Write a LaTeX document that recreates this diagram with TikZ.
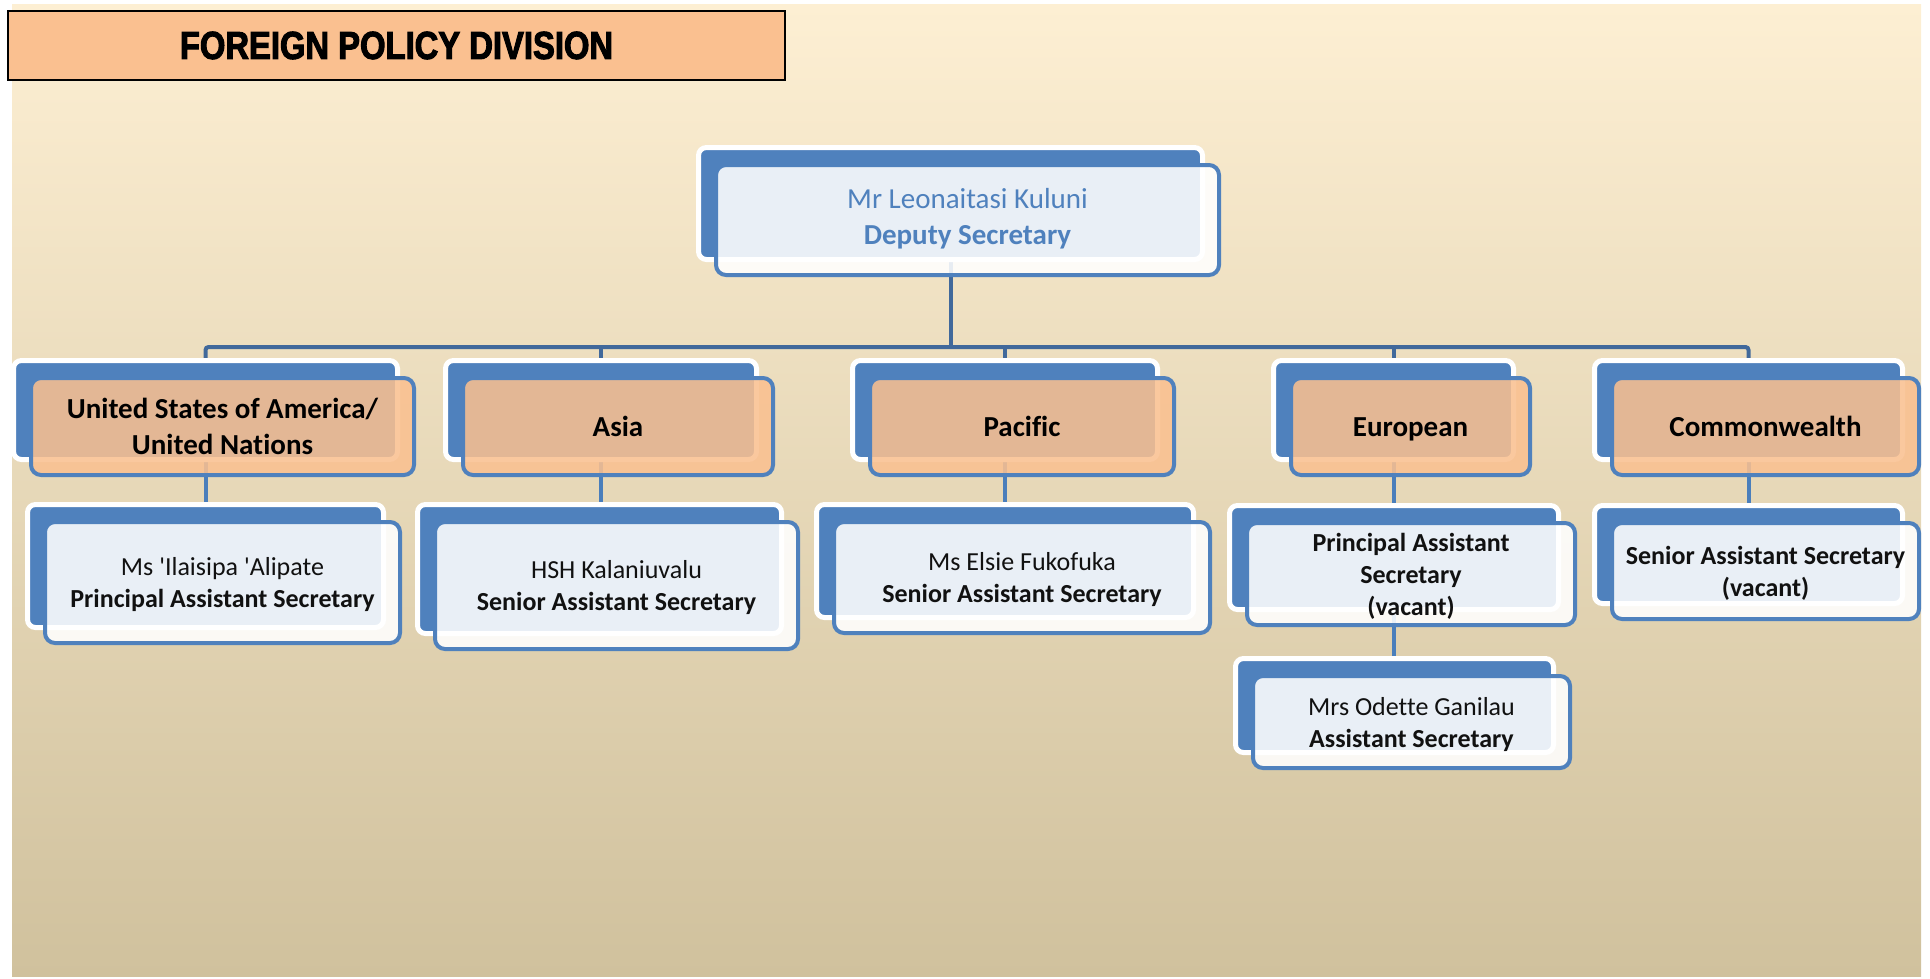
\documentclass[tikz,border=0pt]{standalone}
\usepackage{fontspec}
\setmainfont{Carlito}[Ligatures={TeXOff,CommonOff}]
\newfontfamily\headfont{Liberation Sans Bold}[FakeStretch=0.84,FakeBold=2.6]
\usetikzlibrary{calc}

\definecolor{paperTop}{HTML}{FDEFD3}
\definecolor{paperMid}{HTML}{F1E9D2}
\definecolor{paperBot}{HTML}{D0C19D}
\definecolor{accent}{HTML}{4F81BD}
\definecolor{busblue}{HTML}{41699B}
\definecolor{linkblue}{HTML}{4A7EBB}
\definecolor{peach}{HTML}{FAC090}
\definecolor{inkdark}{HTML}{111111}

\pgfdeclarelayer{paper}
\pgfdeclarelayer{links}
\pgfsetlayers{paper,links,main}

\tikzset{
  backbox/.style={draw=white, line width=5pt, fill=accent, rounded corners=8pt, inner sep=0pt},
  frontbase/.style={draw=accent, line width=4pt, rounded corners=10pt, inner sep=0pt,
    align=center, text opacity=1},
  unitbox/.style={frontbase, fill=peach, fill opacity=0.87,
    font=\bfseries\fontsize{29}{36}\selectfont, text=black},
  staffbox/.style={frontbase, fill=white, fill opacity=0.88,
    font=\fontsize{26}{32}\selectfont, text=inkdark},
  headbox/.style={frontbase, fill=white, fill opacity=0.88,
    font=\fontsize{29}{36}\selectfont, text=accent},
  titlebox/.style={draw=black, line width=2pt, fill=peach, inner sep=0pt},
  bus/.style={draw=busblue, line width=4pt, rounded corners=3pt},
  link/.style={draw=linkblue, line width=4pt},
}

% struts that keep every card's lines on the same optical centre
\newcommand\topstrut{\vrule height\dimexpr0.7\baselineskip+6pt\relax depth0pt width0pt}
\newcommand\botstrut{\vrule height0pt depth0.3\baselineskip width0pt}

% A unit: a blue tab behind a framed card; #2..#5 are the card's outer corners
\newcommand\orgunit[7]{%
  \pgfmathsetmacro\orgCX{(#2+#4)/2}%
  \pgfmathsetmacro\orgCY{(#3+#5)/2}%
  \pgfmathsetmacro\orgBW{#4-#2-3}%
  \pgfmathsetmacro\orgBH{#5-#3-2}%
  \pgfmathsetmacro\orgFW{#4-#2-4}%
  \pgfmathsetmacro\orgFH{#5-#3-4}%
  \node[backbox, minimum width=\orgBW pt, minimum height=\orgBH pt]
    (#1-back) at ({\orgCX-17},{\orgCY-16.5}) {};
  \node[#6, minimum width=\orgFW pt, minimum height=\orgFH pt]
    (#1) at (\orgCX,\orgCY) {\topstrut#7\botstrut};
}

\begin{document}
\begin{tikzpicture}[x=1pt,y=-1pt]
\useasboundingbox (0,0) rectangle (1930,978);

\begin{pgfonlayer}{paper}
  \shade[top color=paperTop, middle color=paperMid, bottom color=paperBot]
    (12,4) rectangle (1921,976);
\end{pgfonlayer}

% heading
\node[titlebox, minimum width=777pt, minimum height=69pt] (title) at (396.5,45.5)
  {\headfont\fontsize{39}{39}\selectfont FOREIGN POLICY DIVISION};

% head of division (its lines sit a little higher on the card)
\orgunit{top}{714}{163}{1221}{277}{headbox}
  {Mr Leonaitasi Kuluni\\\textbf{Deputy Secretary}\vrule depth19pt width0pt}

% sections
\orgunit{usa}{29}{376}{416}{477}{unitbox}{United States of America/\\United Nations}
\orgunit{asia}{461}{376}{775}{477}{unitbox}{Asia}
\orgunit{pac}{868}{376}{1176}{477}{unitbox}{Pacific}
\orgunit{eur}{1289}{376}{1532}{477}{unitbox}{European}
\orgunit{com}{1610}{376}{1921}{477}{unitbox}{Commonwealth}

% staff
\orgunit{usac}{43}{520}{402}{645}{staffbox}
  {Ms 'Ilaisipa 'Alipate\\\textbf{Principal Assistant Secretary}}
\orgunit{asiac}{433}{520}{800}{651}{staffbox}
  {HSH Kalaniuvalu\\\textbf{Senior Assistant Secretary}}
\orgunit{pacc}{832}{520}{1212}{635}{staffbox}
  {Ms Elsie Fukofuka\\\textbf{Senior Assistant Secretary}}
\orgunit{eurc}{1245}{521}{1577}{627}{staffbox}
  {\textbf{Principal Assistant}\\\textbf{Secretary}\\\textbf{(vacant)}}
\orgunit{comc}{1610}{521}{1921}{621}{staffbox}
  {\textbf{Senior Assistant Secretary}\\\textbf{(vacant)}}
\orgunit{eurc2}{1251}{674}{1572}{770}{staffbox}
  {Mrs Odette Ganilau\\\textbf{Assistant Secretary}}

% connectors, kept behind the cards
\begin{pgfonlayer}{links}
  \coordinate (busrow) at (0,347);
  \draw[bus] (top-back.south) -- (top-back.south |- busrow);
  \draw[bus] (usa-back.north) -- (usa-back.north |- busrow)
             -- (com-back.north |- busrow) -- (com-back.north);
  \foreach \u in {asia,pac,eur}
    \draw[bus] (\u-back.north |- busrow) -- (\u-back.north);
  \foreach \p/\c in {usa/usac,asia/asiac,pac/pacc,eur/eurc,eurc/eurc2,com/comc}
    \draw[link] (\p-back.south) -- (\p-back.south |- \c-back.north);
\end{pgfonlayer}
\end{tikzpicture}
\end{document}
